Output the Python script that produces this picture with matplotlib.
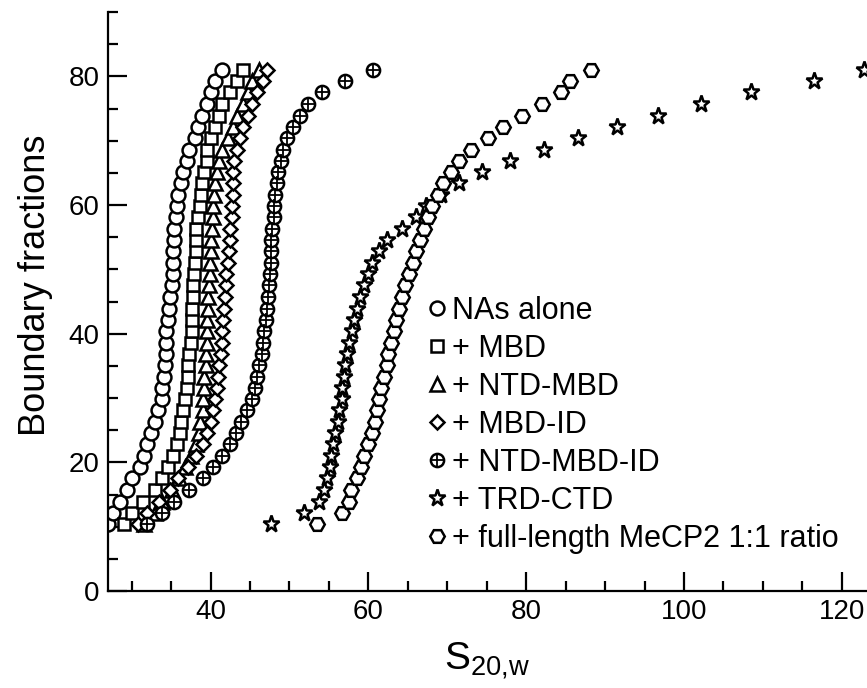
import matplotlib
matplotlib.use('Agg')
import matplotlib.pyplot as plt
from matplotlib.ticker import MultipleLocator
from matplotlib.legend_handler import HandlerTuple

plt.rcParams['font.family'] = ['Liberation Sans', 'DejaVu Sans']
plt.rcParams['mathtext.fontset'] = 'custom'
plt.rcParams['mathtext.rm'] = 'Liberation Sans'
plt.rcParams['mathtext.it'] = 'Liberation Sans:italic'

# Boundary fractions (y) shared by all series
boundary_fraction = [10.4, 12.2, 13.9, 15.7, 17.5, 19.2, 21.0, 22.8, 24.5, 26.3,
                     28.1, 29.8, 31.6, 33.3, 35.1, 36.9, 38.6, 40.4, 42.2, 43.9,
                     45.7, 47.5, 49.2, 51.0, 52.8, 54.5, 56.3, 58.1, 59.8, 61.6,
                     63.4, 65.1, 66.9, 68.6, 70.4, 72.2, 73.9, 75.7, 77.5, 79.2, 81.0]

nas_alone = [27.0, 27.6, 28.5, 29.4, 30.1, 31.0, 31.6, 32.0, 32.5, 33.0,
             33.3, 33.8, 33.9, 34.1, 34.2, 34.3, 34.4, 34.4, 34.6, 34.7,
             34.8, 35.1, 35.2, 35.2, 35.3, 35.4, 35.4, 35.6, 35.7, 35.9,
             36.3, 36.5, 37.0, 37.3, 38.0, 38.4, 38.9, 39.5, 40.1, 40.5, 41.4]

mbd = [29.0, 30.1, 31.4, 32.9, 33.8, 34.6, 35.2, 35.7, 36.1, 36.3,
       36.5, 36.7, 37.0, 37.1, 37.2, 37.3, 37.5, 37.6, 37.7, 37.7,
       37.8, 37.8, 37.9, 38.0, 38.1, 38.2, 38.2, 38.4, 38.6, 38.8,
       38.9, 39.2, 39.5, 39.6, 40.1, 40.5, 41.1, 41.5, 42.4, 43.3, 44.1]

ntd_mbd = [31.6, 32.9, 33.9, 35.1, 36.0, 36.8, 37.5, 38.1, 38.5, 38.7,
           39.0, 39.1, 39.2, 39.2, 39.4, 39.4, 39.5, 39.6, 39.6, 39.7,
           39.7, 39.8, 39.9, 39.9, 40.0, 40.1, 40.2, 40.3, 40.3, 40.4,
           40.5, 40.8, 41.1, 41.5, 42.2, 42.8, 43.4, 44.1, 44.7, 45.3, 46.2]

mbd_id = [30.8, 32.0, 33.5, 34.8, 35.9, 37.1, 38.2, 39.0, 39.6, 40.1,
          40.3, 40.6, 40.8, 41.0, 41.1, 41.3, 41.4, 41.5, 41.6, 41.7,
          41.8, 41.9, 42.0, 42.2, 42.3, 42.4, 42.5, 42.7, 42.7, 42.8,
          42.8, 42.9, 43.0, 43.3, 43.7, 44.1, 44.7, 45.3, 45.9, 46.6, 47.2]

ntd_mbd_id = [32.0, 33.8, 35.4, 37.3, 39.0, 40.3, 41.5, 42.4, 43.2, 43.9,
              44.6, 45.2, 45.6, 45.9, 46.2, 46.5, 46.6, 46.8, 47.0, 47.2,
              47.3, 47.4, 47.5, 47.6, 47.7, 47.7, 47.8, 48.0, 48.1, 48.2,
              48.4, 48.6, 48.9, 49.2, 49.7, 50.4, 51.3, 52.4, 54.1, 57.0, 60.6]

trd_ctd = [47.7, 51.9, 53.8, 54.4, 54.8, 55.1, 55.3, 55.5, 55.8, 56.1,
           56.3, 56.6, 56.7, 56.9, 57.1, 57.3, 57.6, 57.9, 58.2, 58.6,
           59.0, 59.4, 59.9, 60.5, 61.3, 62.3, 64.2, 66.0, 67.3, 69.2,
           71.5, 74.4, 78.0, 82.2, 86.6, 91.5, 96.7, 102.2, 108.5, 116.5, 122.8]

full_length = [53.5, 56.6, 57.6, 57.8, 58.5, 59.1, 59.4, 59.9, 60.4, 60.8,
               61.1, 61.4, 61.6, 62.0, 62.3, 62.5, 62.9, 63.3, 63.5, 63.9,
               64.3, 64.7, 65.1, 65.6, 66.1, 66.5, 67.0, 67.5, 68.1, 68.8,
               69.4, 70.5, 71.5, 73.0, 75.2, 77.1, 79.5, 82.0, 84.4, 85.6, 88.2]

labels = ['NAs alone', '+ MBD', '+ NTD-MBD', '+ MBD-ID', '+ NTD-MBD-ID',
          '+ TRD-CTD', '+ full-length MeCP2 1:1 ratio']

fig = plt.figure(figsize=(8.67, 6.88), dpi=100)
ax = fig.add_axes([108 / 867, 1 - 591 / 688, (867 - 108) / 867, (591 - 12) / 688])

common = dict(linestyle='none', markerfacecolor='white', markeredgecolor='black',
              markeredgewidth=1.8)

h1, = ax.plot(nas_alone, boundary_fraction, marker='o', markersize=10, **common)
h2, = ax.plot(mbd, boundary_fraction, marker='s', markersize=9, **common)
h3, = ax.plot(ntd_mbd, boundary_fraction, marker='^', markersize=10, **common)
h4, = ax.plot(mbd_id, boundary_fraction, marker='D', markersize=7.5, **common)
h5a, = ax.plot(ntd_mbd_id, boundary_fraction, marker='o', markersize=9.5, **common)
h5b, = ax.plot(ntd_mbd_id, boundary_fraction, marker='+', markersize=9.5,
               linestyle='none', color='black', markeredgewidth=1.3)
h6, = ax.plot(trd_ctd, boundary_fraction, marker='*', markersize=12.5, **common)
h7, = ax.plot(full_length, boundary_fraction, marker='H', markersize=10.5, **common)

ax.set_xlim(27, 123.2)
ax.set_ylim(0, 90)

ax.xaxis.set_major_locator(MultipleLocator(20))
ax.xaxis.set_minor_locator(MultipleLocator(5))
ax.yaxis.set_major_locator(MultipleLocator(20))
ax.yaxis.set_minor_locator(MultipleLocator(5))
ax.set_xticks([40, 60, 80, 100, 120])

for s in ['top', 'right']:
    ax.spines[s].set_visible(False)
for s in ['left', 'bottom']:
    ax.spines[s].set_linewidth(1.6)

ax.tick_params(which='major', direction='in', length=14, width=1.6,
               labelsize=20, pad=6)
ax.tick_params(which='minor', direction='in', length=7, width=1.6)

fig.text(36 / 867, 1 - 285 / 688, 'Boundary fractions', rotation=90,
         ha='center', va='center', fontsize=26)
fig.text(487 / 867, 1 - 661 / 688, r'S$_{\mathrm{20{,}w}}$',
         ha='center', va='center', fontsize=28)

leg = ax.legend([h1, h2, h3, h4, (h5a, h5b), h6, h7], labels,
                handler_map={tuple: HandlerTuple(ndivide=1, pad=0)},
                loc='upper left', bbox_to_anchor=(429 / 867, 1 - 296 / 688),
                bbox_transform=fig.transFigure, frameon=False,
                fontsize=22, handlelength=0.5, handletextpad=0.25,
                labelspacing=0.26, borderpad=0, borderaxespad=0,
                markerscale=1.0)

fig.savefig('out.png', dpi=100)
